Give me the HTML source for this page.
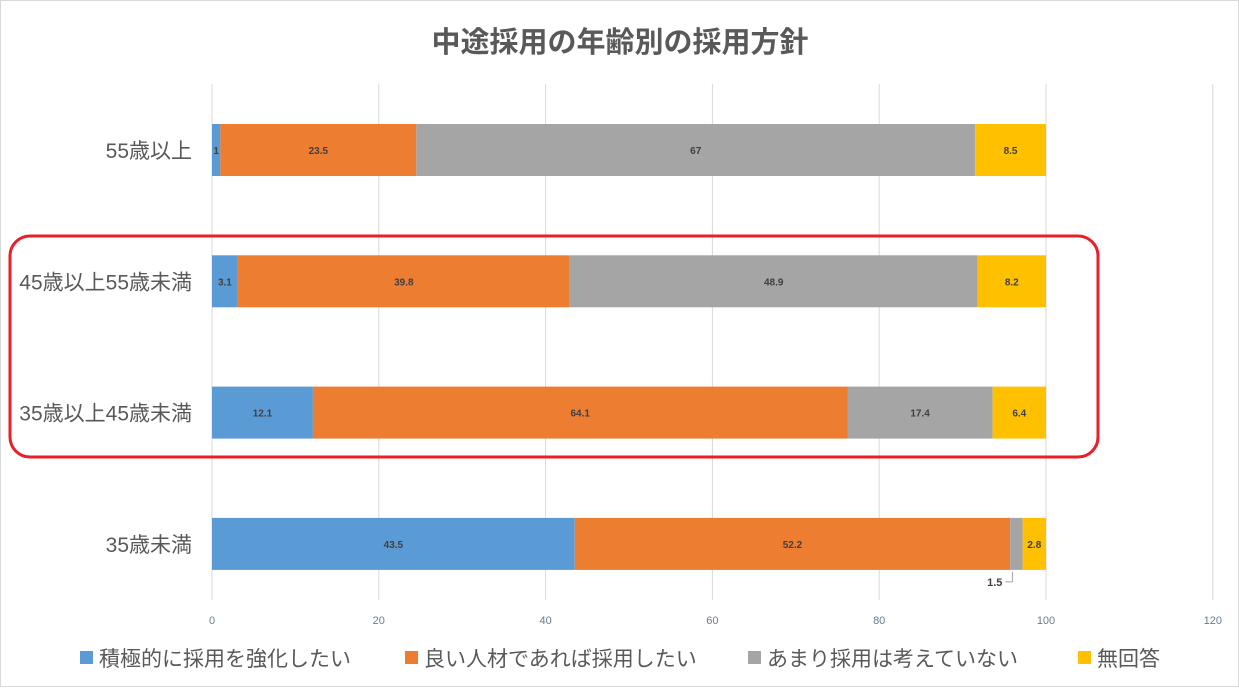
<!DOCTYPE html>
<html><head><meta charset="utf-8"><style>
html,body{margin:0;padding:0;background:#fff}
body{width:1239px;height:687px;overflow:hidden;font-family:"Liberation Sans","Noto Sans CJK JP",sans-serif}
</style></head><body>
<svg id="chart" width="1239" height="687" xmlns="http://www.w3.org/2000/svg" font-family="Liberation Sans, Noto Sans CJK JP, sans-serif">
<rect x="0.5" y="0.5" width="1238" height="686" fill="#fff" stroke="#d9d9d9"/>
<text x="620" y="52" text-anchor="middle" font-size="29" font-weight="bold" fill="#595959">中途採用の年齢別の採用方針</text>
<g id="grid"></g><g id="bars"></g><g id="labels"></g>
<rect x="10" y="236" width="1088" height="221" rx="20" fill="none" stroke="#e8202a" stroke-width="3"/>
<g id="legend"></g>
</svg>
<script>
const categories=["55歳以上","45歳以上55歳未満","35歳以上45歳未満","35歳未満"];
const seriesNames=["積極的に採用を強化したい","良い人材であれば採用したい","あまり採用は考えていない","無回答"];
const s1=[1,3.1,12.1,43.5];
const s2=[23.5,39.8,64.1,52.2];
const s3=[67,48.9,17.4,1.5];
const s4=[8.5,8.2,6.4,2.8];
const ticks=[0,20,40,60,80,100,120];
const colors=["#5b9bd5","#ed7d31","#a5a5a5","#ffc000"];
const NS="http://www.w3.org/2000/svg";
const x0=212,x100=1046;
const xs=v=>x0+(x100-x0)*v/100;
const rowY=i=>124+i*131.3, bh=52;
function mk(t,a,p){const e=document.createElementNS(NS,t);for(const k in a)e.setAttribute(k,a[k]);p.appendChild(e);return e;}
const grid=document.getElementById('grid'),bars=document.getElementById('bars'),labels=document.getElementById('labels'),leg=document.getElementById('legend');
ticks.forEach(t=>{
 const l=mk('line',{x1:xs(t),x2:xs(t),y1:84,y2:600,stroke:'#d9d9d9','stroke-width':1},grid);
 
 
 const tx=mk('text',{x:xs(t),y:624,'text-anchor':'middle','font-size':11,fill:'#6a7b8c'},grid);
 tx.textContent=t;
 
 
});
const series=[s1,s2,s3,s4];
categories.forEach((c,i)=>{
 const y=rowY(i);
 const cl=mk('text',{x:192,y:y+bh/2+8,'text-anchor':'end','font-size':21,fill:'#595959'},labels);
 cl.textContent=c;
 
 
 let acc=0;
 series.forEach((s,j)=>{
  const v=s[i];
  const r=mk('rect',{x:xs(acc),y:y,width:xs(acc+v)-xs(acc),height:bh,fill:colors[j]},bars);
  
  
  const cx=(xs(acc)+xs(acc+v))/2;
  if(v<2 && j==2){
   const t=mk('text',{x:cx-14,y:y+bh+16,'text-anchor':'end','font-size':11,'font-weight':'bold',fill:'#404040'},labels);
   t.textContent=v;
   
   
   mk('polyline',{points:`${cx-11},${y+bh+12} ${cx-4},${y+bh+12} ${cx-4},${y+bh+2}`,fill:'none',stroke:'#a5a5a5'},labels);
  } else {
   const t=mk('text',{x:cx,y:y+bh/2+4,'text-anchor':'middle','font-size':10,'font-weight':'bold',fill:'#404040'},labels);
   t.textContent=v;
   
   
  }
  acc+=v;
 });
});
const legX=[80,405,748,1078];
seriesNames.forEach((n,j)=>{
 const r=mk('rect',{x:legX[j],y:651,width:13,height:13,fill:colors[j]},leg);
 
 
 const t=mk('text',{x:legX[j]+19,y:666,'font-size':21,fill:'#595959'},leg);
 t.textContent=n;
 
 
});
</script>
</body></html>
